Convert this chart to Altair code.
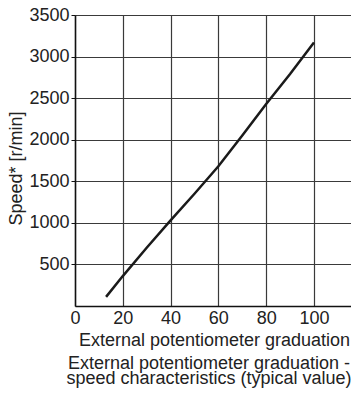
import altair as alt
import pandas as pd

# Curve
graduation = [13, 20, 30, 40, 50, 60, 70, 80, 90, 100]
speed = [110, 360, 700, 1030, 1350, 1680, 2050, 2430, 2790, 3170]

x_ticks = [0, 20, 40, 60, 80, 100]
y_ticks = [500, 1000, 1500, 2000, 2500, 3000, 3500]

df = pd.DataFrame({"graduation": graduation, "speed": speed})

FONT = "Liberation Sans"
FS = 18

chart = (
    alt.Chart(df)
    .mark_line(color="#1a1a1a", strokeWidth=2.5)
    .encode(
        x=alt.X(
            "graduation:Q",
            scale=alt.Scale(domain=[0, 115.5], nice=False, zero=False),
            axis=alt.Axis(
                values=x_ticks,
                format="d",
                title="External potentiometer graduation",
                tickSize=0,
                labelPadding=3,
                titlePadding=4,
                titleX=139,
                labelFlush=False,
            ),
        ),
        y=alt.Y(
            "speed:Q",
            scale=alt.Scale(domain=[0, 3500], nice=False),
            axis=alt.Axis(
                values=y_ticks,
                format="d",
                title="Speed* [r/min]",
                tickSize=4,
                labelPadding=2,
                titlePadding=3,
                titleY=153,
                labelFlush=False,
            ),
        ),
    )
    .properties(
        width=276,
        height=291,
        autosize=alt.AutoSizeParams(type="none"),
        padding={"left": 67, "top": 7, "right": 0, "bottom": 89},
        title=alt.TitleParams(
            text=["External potentiometer graduation -", "speed characteristics (typical value)"],
            orient="bottom",
            anchor="middle",
            dx=-4,
            fontSize=FS,
            font=FONT,
            fontWeight="normal",
            color="#222",
            lineHeight=15,
            offset=6,
        ),
    )
    .configure_view(stroke=None)
    .configure_axis(
        labelFont=FONT,
        titleFont=FONT,
        labelFontSize=FS,
        titleFontSize=FS,
        titleFontWeight="normal",
        labelColor="#222",
        titleColor="#222",
        domainColor="#111",
        domainWidth=1.5,
        tickColor="#111",
        gridColor="#3a3a3a",
        gridWidth=1.2,
        gridOpacity=1,
    )
)

chart.save("out.html", embed_options={"renderer": "svg", "actions": False})
